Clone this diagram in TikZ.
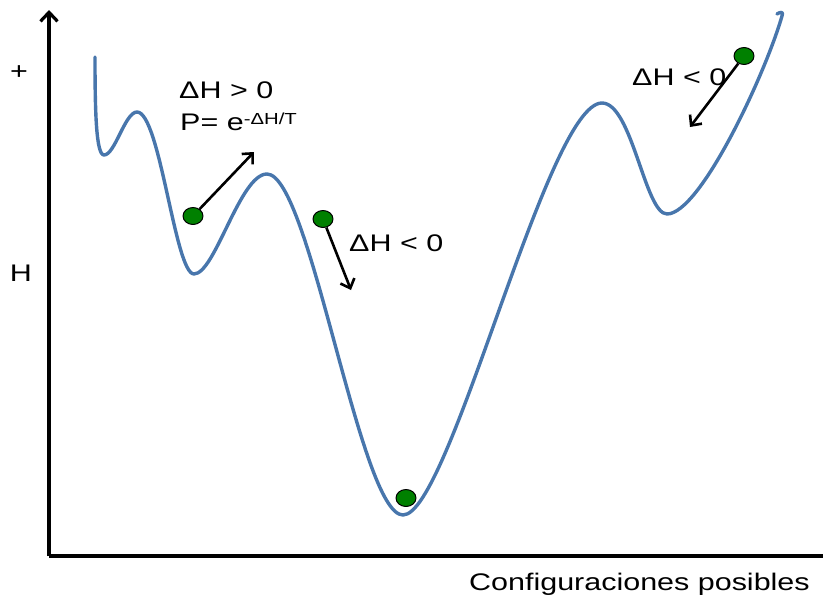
\documentclass[tikz,border=0pt]{standalone}
\usepackage{fontspec}
\setmainfont{Liberation Sans}[FakeStretch=1.27]
\usepackage{xcolor}
\usetikzlibrary{arrows.meta,shapes.geometric}
\definecolor{lscurve}{RGB}{72,118,172}
\definecolor{lsball}{RGB}{0,128,0}
\tikzset{
  curve/.style={draw=lscurve, line width=3.4pt, line cap=round, line join=round},
  ball/.style={ellipse, draw=black, line width=1pt, fill=lsball,
    minimum width=20pt, minimum height=17pt, inner sep=0pt},
  arr/.style={-{Straight Barb[length=8pt,width=15pt]}, draw=black, line width=2.6pt},
  axis/.style={draw=black, line width=3.2pt},
  lbl/.style={font=\fontsize{24}{28}\selectfont, inner sep=0pt, anchor=base west},
  every picture/.append style={line join=round}
}
\newcommand{\supr}[1]{\raisebox{6pt}{\fontsize{16}{18}\selectfont #1}}

\begin{document}
\begin{tikzpicture}[x=1pt,y=-1pt]
  \useasboundingbox (0,0) rectangle (823,597);
  % axes
  \coordinate (org) at (49,556);
  \coordinate (ytop) at (49,10);
  \coordinate (xend) at (823,556);
  \draw[axis, -{Straight Barb[length=9pt,width=17pt]}] (org) -- (ytop);
  \draw[axis] (org) -- (xend);
  \node[lbl, anchor=base] (plus) at (19,79) {+};
  \node[lbl, anchor=base] (hlab) at (21,281) {H};
  \node[lbl] (xlab) at (469,590) {Configuraciones posibles};

  % energy landscape
  \draw[curve] (95,57) .. controls (95,110) and (96,155) .. (104,155)
    .. controls (115,155) and (125,112) .. (137,112)
    .. controls (160,112) and (175,274) .. (194,274)
    .. controls (215,274) and (240,174) .. (267,174)
    .. controls (310,174) and (360,515) .. (403,515)
    .. controls (450,515) and (547,103) .. (602,103)
    .. controls (632,103) and (645,214) .. (667,214)
    .. controls (700,214) and (765,75) .. (782,16)
    .. controls (784,11) and (780,12) .. (777,14);

  % states
  \node[ball] (b1) at (193,216) {};
  \node[ball] (b2) at (323,219) {};
  \node[ball] (b3) at (406,498) {};
  \node[ball] (b4) at (744,56) {};
  \coordinate (t1) at (254,152);
  \coordinate (t2) at (351,290);
  \coordinate (t4) at (690,127);
  \draw[arr] (b1) -- (t1);
  \draw[arr] (b2) -- (t2);
  \draw[arr] (b4) -- (t4);

  \node[lbl] (up1) at (179,98) {ΔH > 0};
  \node[lbl] (prob) at (180,130) {P= e\supr{-ΔH/T}};
  \node[lbl] (dn1) at (349,251) {ΔH < 0};
  \node[lbl] (dn2) at (632,85) {ΔH < 0};
\end{tikzpicture}
\end{document}
